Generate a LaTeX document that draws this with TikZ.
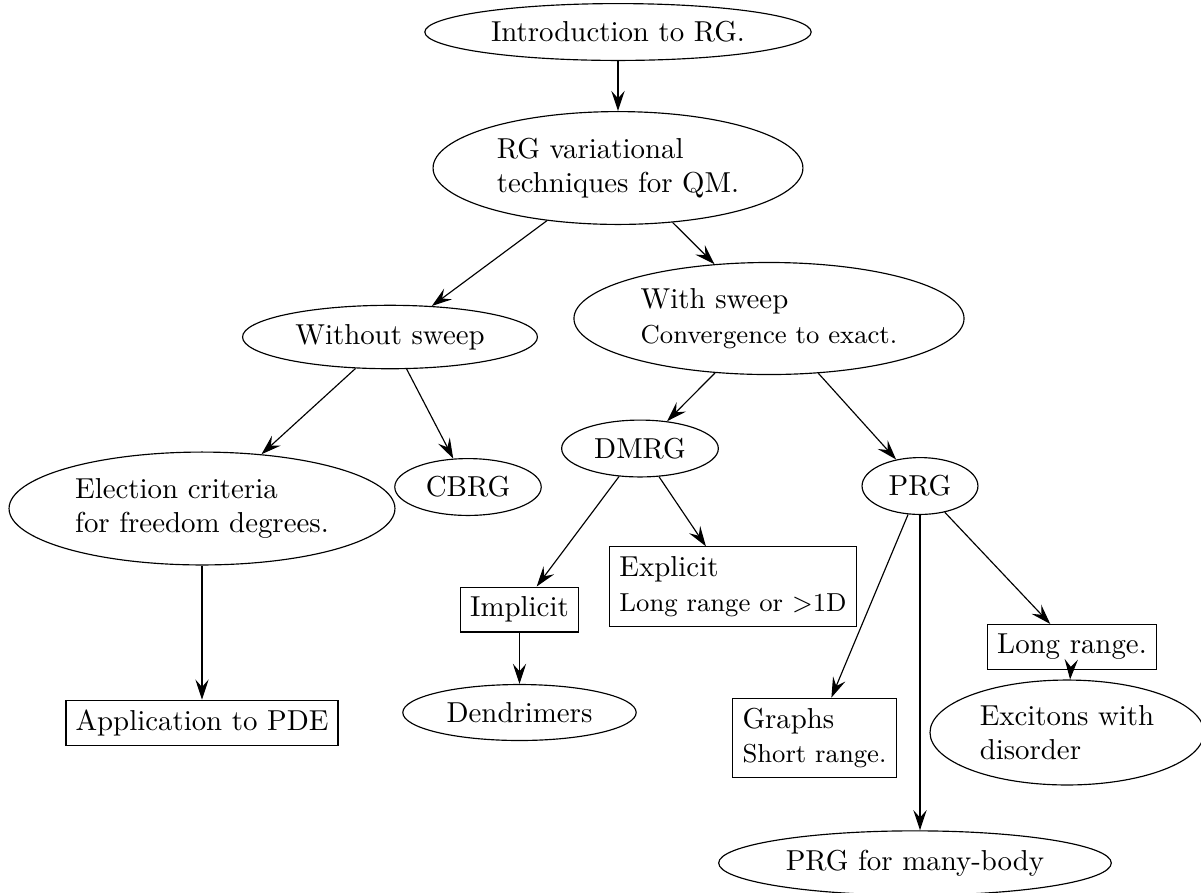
\documentclass[tikz,border=0pt]{standalone}
\usetikzlibrary{shapes.geometric,arrows.meta}
\begin{document}
\begin{tikzpicture}[x=0.3466pt,y=-0.3466pt,
  ell/.style={draw, ellipse, align=left},
  box/.style={draw, rectangle, align=left},
  arr/.style={-{Stealth[length=7pt,width=4.6pt,inset=2.6pt]}}]
\useasboundingbox (0,0) rectangle (1201,892);
\node[ell] (intro) at (618,32) {Introduction to RG.};
\node[ell] (rgvar) at (618,168) {RG variational\\techniques for QM.};
\node[ell] (without) at (390,337) {Without sweep};
\node[ell] (with) at (769,318.5) {With sweep\\{\small Convergence to exact.}};
\node[ell] (election) at (202,508.5) {Election criteria\\for freedom degrees.};
\node[ell] (cbrg) at (468,487) {CBRG};
\node[ell] (dmrg) at (640,448.5) {DMRG};
\node[ell] (prg) at (920,486) {PRG};
\node[box] (implicit) at (519.5,609.5) {Implicit};
\node[box] (explicit) at (733,586.5) {Explicit\\{\small Long range or $>$1D}};
\node[ell] (dendrimers) at (519.5,712.5) {Dendrimers};
\node[box] (application) at (202,723) {Application to PDE};
\node[box] (longrange) at (1072,647) {Long range.};
\node[box] (graphs) at (814.5,738) {Graphs\\{\small Short range.}};
\node[ell] (excitons) at (1067,732.5) {Excitons with\\disorder};
\node[ell] (prgmany) at (915,863) {PRG for many-body};
\draw[arr] (intro) -- (rgvar);
\draw[arr] (rgvar) -- (without);
\draw[arr] (rgvar) -- (with);
\draw[arr] (without) -- (election);
\draw[arr] (without) -- (cbrg);
\draw[arr] (with) -- (dmrg);
\draw[arr] (with) -- (prg);
\draw[arr] (election) -- (application);
\draw[arr] (dmrg) -- (implicit);
\draw[arr] (dmrg) -- (explicit);
\draw[arr] (implicit) -- (dendrimers);
\draw[arr] (prg) -- (graphs);
\draw[arr] (prg.south) -- (prg.south |- prgmany.north);
\draw[arr] (prg) -- (longrange);
\draw[arr] (longrange) -- (excitons);
\end{tikzpicture}
\end{document}
